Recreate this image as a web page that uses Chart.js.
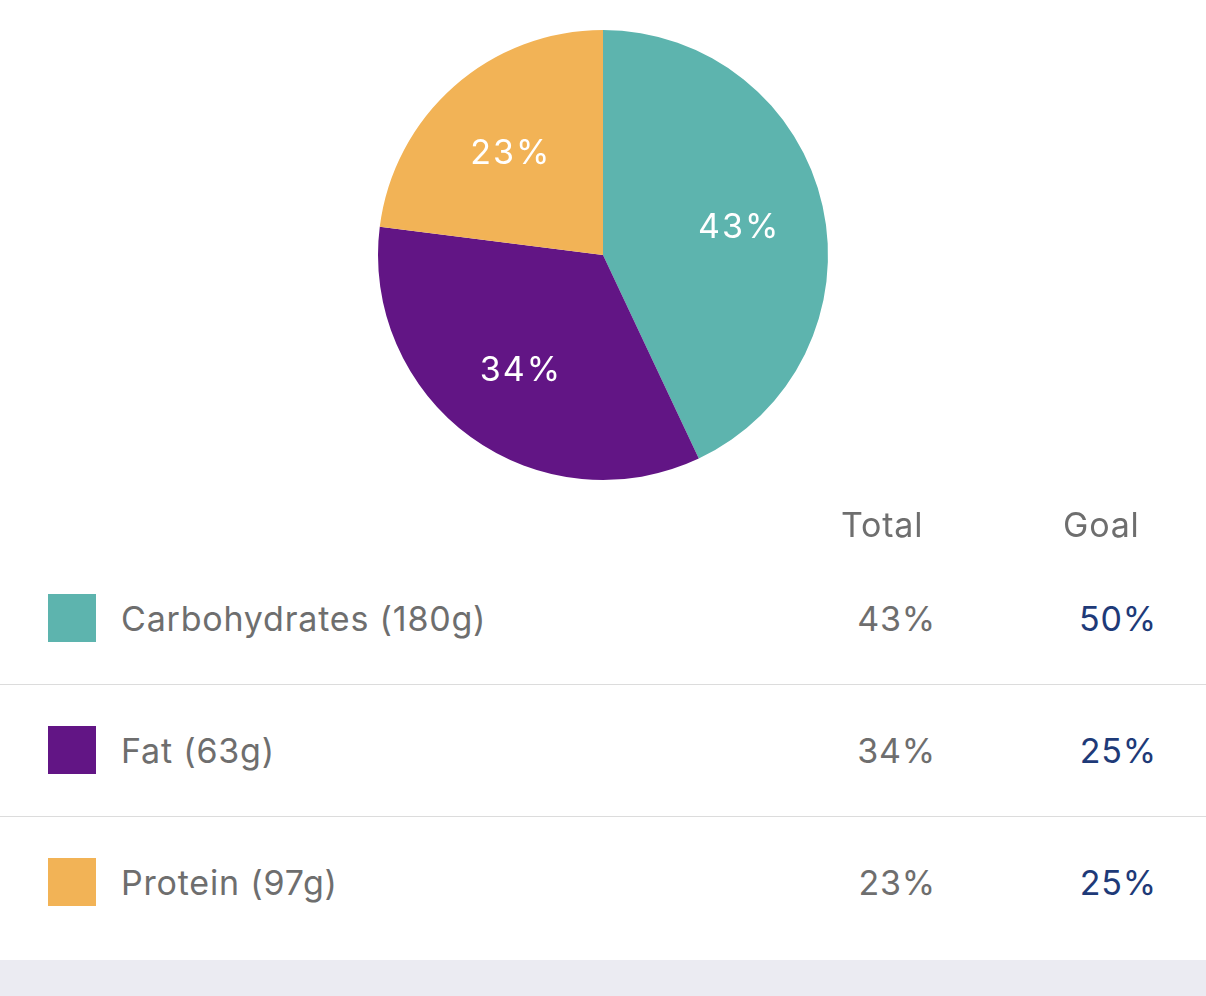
<!DOCTYPE html>
<html>
<head>
<meta charset="utf-8">
<script src="https://cdn.jsdelivr.net/npm/chart.js@4"></script>
<style>
    html, body {
        margin: 0;
        padding: 0;
        background: #fff;
        width: 1206px;
        height: 996px;
        overflow: hidden;
        font-family: "Inter", "Roboto", sans-serif;
    }
    #pie-wrap {
        position: absolute;
        left: 0;
        top: 0;
        width: 1206px;
        height: 510px;
    }
    .txt {
        position: absolute;
        font-size: 34px;
        line-height: 40px;
        letter-spacing: 0.8px;
        color: #6e6e6e;
        white-space: nowrap;
    }
    .goal { color: #1e3a78; }
    .sq {
        position: absolute;
        left: 48px;
        width: 48px;
        height: 48px;
    }
    .sep {
        position: absolute;
        left: 0;
        width: 1206px;
        height: 1px;
        background: #dcdcdc;
    }
    #bottom {
        position: absolute;
        left: 0;
        top: 960px;
        width: 1206px;
        height: 36px;
        background: #ebebf2;
    }
</style>
</head>
<body>
<div id="pie-wrap"><canvas id="pie"></canvas></div>
<div id="table"></div>
<div id="bottom"></div>
<script>
// dados
var categories = ['Carbohydrates', 'Fat', 'Protein'];
var grams = [180, 63, 97];
var totals = [43, 34, 23];
var goals = [50, 25, 25];
var colors = ['#5db4ae', '#621585', '#f2b356'];

// rótulos dentro das fatias
var sliceLabels = {
    id: 'sliceLabels',
    afterDatasetsDraw: function(chart) {
        var ctx = chart.ctx;
        var meta = chart.getDatasetMeta(0);
        ctx.save();
        ctx.fillStyle = '#ffffff';
        ctx.font = '34px Inter, Roboto, sans-serif';
        ctx.textAlign = 'center';
        ctx.textBaseline = 'middle';
        if (ctx.letterSpacing !== undefined) ctx.letterSpacing = '2px';
        meta.data.forEach(function(arc, i) {
            var p = arc.getProps(['startAngle', 'endAngle', 'outerRadius', 'x', 'y'], true);
            var mid = (p.startAngle + p.endAngle) / 2;
            var r = p.outerRadius * 0.62;
            ctx.fillText(totals[i] + '%', p.x + Math.cos(mid) * r, p.y + Math.sin(mid) * r + 3);
        });
        ctx.restore();
    }
};

new Chart(document.getElementById('pie'), {
    type: 'pie',
    data: {
        labels: categories,
        datasets: [{
            data: totals,
            backgroundColor: colors,
            borderWidth: 0
        }]
    },
    options: {
        responsive: true,
        maintainAspectRatio: false,
        animation: false,
        layout: { padding: { top: 30, bottom: 30 } },
        plugins: {
            legend: { display: false },
            tooltip: { enabled: false }
        }
    },
    plugins: [sliceLabels]
});

// tabela
function addDiv(cls, style, text) {
    var d = document.createElement('div');
    d.className = cls;
    Object.assign(d.style, style);
    if (text != null) d.textContent = text;
    document.getElementById('table').appendChild(d);
    return d;
}

addDiv('txt', { left: '841px', top: '505px' }, 'Total');
addDiv('txt', { left: '1063px', top: '505px' }, 'Goal');

var rowTop = 599;
var rowStep = 132;
categories.forEach(function(c, i) {
    var y = rowTop + i * rowStep;
    addDiv('sq', { top: (y - 5) + 'px', background: colors[i] });
    addDiv('txt', { left: '121px', top: y + 'px' }, c + ' (' + grams[i] + 'g)');
    addDiv('txt', { right: (1206 - 936) + 'px', top: y + 'px' }, totals[i] + '%');
    addDiv('txt goal', { right: (1206 - 1157) + 'px', top: y + 'px' }, goals[i] + '%');
    if (i < categories.length - 1) {
        addDiv('sep', { top: (y + 85) + 'px' });
    }
});
</script>
</body>
</html>
